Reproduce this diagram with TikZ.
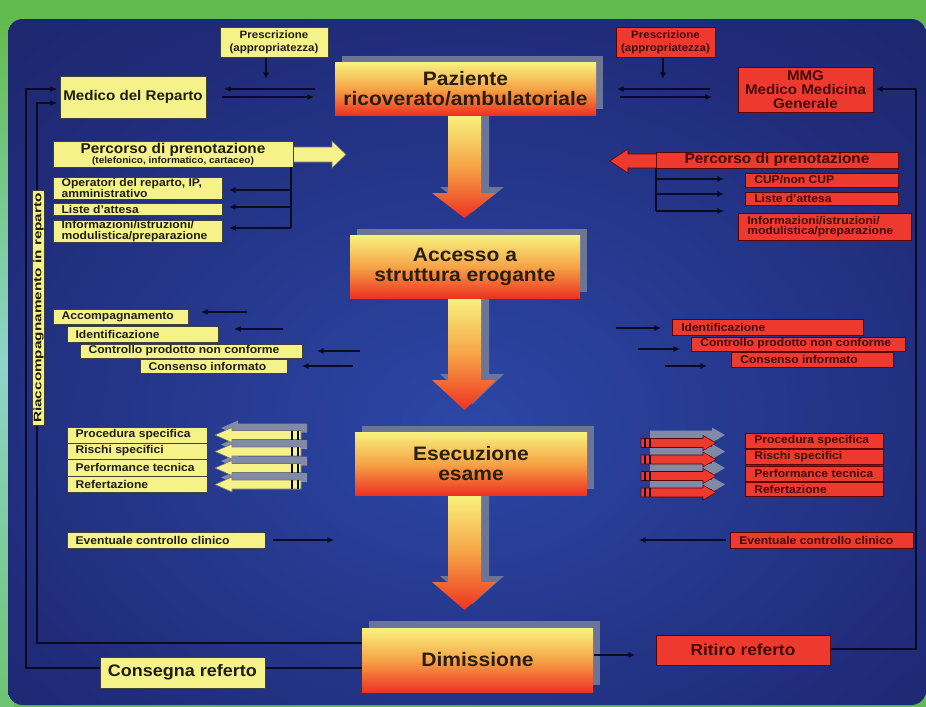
\documentclass[tikz,border=0pt]{standalone}
\usepackage{fontspec}
\setmainfont{Liberation Sans}[FakeStretch=1.08]
\newfontfamily\vfont{Liberation Sans}[FakeStretch=1.4]
\usetikzlibrary{fit,arrows.meta}
\definecolor{bggreen}{HTML}{62BB4E}
\definecolor{bgteal}{HTML}{8ED5C8}
\definecolor{navyd}{HTML}{171B55}
\definecolor{navym}{HTML}{202C7A}
\definecolor{navyl}{HTML}{2C47A6}
\definecolor{ylw}{HTML}{F6F28A}
\definecolor{rdd}{HTML}{EE3A2E}
\definecolor{cy}{HTML}{F8F27E}
\definecolor{co}{HTML}{F6A446}
\definecolor{cr}{HTML}{EE3222}
\definecolor{shd}{HTML}{6B7597}
\definecolor{ln}{HTML}{0A0A22}
\definecolor{txy}{HTML}{1E1E0E}
\definecolor{txr}{HTML}{420806}
\definecolor{ctext}{HTML}{2A1E0E}
\pgfdeclareradialshading{panelshade}{\pgfpoint{0bp}{-5bp}}{color(0bp)=(navyl); color(28bp)=(navym); color(60bp)=(navyd); color(80bp)=(navyd)}
\newcommand\boxL[7]{\node[#1box, fit={(#3,#4) (#5,#6)}] (#2) {};
  \node[#1txl] (#2-t) at (#2.west) {#7};}
\newcommand\boxC[8]{\node[#1box, fit={(#3,#4) (#5,#6)}] (#2) {};
  \node[#1tx, align=center, font={\bfseries#7}] (#2-t) at (#2) {#8};}
\newcommand\yrowS[1]{\fill[garrow] (221,#1-7) -- (238,#1-14.5) -- (238,#1-11.5) -- (307,#1-11.5) -- (307,#1-2.5) -- (238,#1-2.5) -- (238,#1+0.5) -- cycle;}
\newcommand\yrow[1]{\filldraw[yarrow] (215,#1) -- (232,#1-7.5) -- (232,#1-4.5) -- (301,#1-4.5) -- (301,#1+4.5) -- (232,#1+4.5) -- (232,#1+7.5) -- cycle;
  \draw[tick] (292,#1-4.5) -- (292,#1+4.5); \draw[tick] (298,#1-4.5) -- (298,#1+4.5);}
\newcommand\rrowS[1]{\fill[garrow] (725,#1-8) -- (712,#1-15.5) -- (712,#1-12.5) -- (650,#1-12.5) -- (650,#1-3.5) -- (712,#1-3.5) -- (712,#1-0.5) -- cycle;}
\newcommand\rrow[1]{\filldraw[rarrow] (716,#1) -- (703,#1-7.5) -- (703,#1-4.5) -- (641,#1-4.5) -- (641,#1+4.5) -- (703,#1+4.5) -- (703,#1+7.5) -- cycle;
  \draw[tick] (645,#1-4.5) -- (645,#1+4.5); \draw[tick] (650,#1-4.5) -- (650,#1+4.5);}
\newcommand\carrow[3]{%
  \fill[shd] (456,#1-6) -- (489,#1-6) -- (489,#2-6) -- (504,#2-6) -- (472.5,#3-6) -- (440,#2-6) -- (456,#2-6) -- cycle;
  \shade[top color=cy, bottom color=cr, middle color=co] (448,#1) -- (481,#1) -- (481,#2) -- (496,#2) -- (464.5,#3) -- (432,#2) -- (448,#2) -- cycle;}
\begin{document}
\begin{tikzpicture}[x=0.75pt,y=-0.75pt,
  conn/.style={draw=ln, line width=0.9pt},
  arr/.style={conn, -{Latex[length=5pt,width=4.6pt]}},
  ybox/.style={inner sep=0pt, fill=ylw, draw=black!75, line width=0.5pt},
  rbox/.style={inner sep=0pt, fill=rdd, draw=red!35!black, line width=0.5pt},
  cbox/.style={inner sep=0pt, draw=none, top color=cy, bottom color=cr, middle color=co},
  ytx/.style={inner sep=0pt, text=txy, align=left, font=\bfseries\fontsize{8.4}{7.8}\selectfont},
  rtx/.style={ytx, text=txr},
  ytxl/.style={ytx, anchor=west, xshift=6.5pt},
  rtxl/.style={rtx, anchor=west, xshift=7pt},
  ctx/.style={inner sep=0pt, text=ctext, align=center, font=\bfseries\fontsize{14.6}{15}\selectfont},
  yarrow/.style={fill=ylw, draw=black!55, line width=0.4pt},
  rarrow/.style={fill=rdd, draw=red!35!black, line width=0.4pt},
  garrow/.style={fill=shd!85!white},
  tick/.style={draw=ln, line width=1.3pt}
]
\useasboundingbox (0,0) rectangle (926,707);
% background
\fill[bggreen] (0,0) rectangle (926,707);
\shade[top color=bggreen, bottom color=bggreen!70!bgteal, middle color=bgteal] (0,18) rectangle (14,707);
\shade[shading=panelshade, rounded corners=11] (8,19) rectangle (926,705);

% ---------- loops (behind boxes) ----------
\coordinate (lo1) at (362,668); \coordinate (lo2) at (26,668); \coordinate (lo3) at (26,89); \coordinate (lo4) at (57,89);
\draw[arr] (lo1) -- (lo2) -- (lo3) -- (lo4);
\coordinate (li1) at (362,643); \coordinate (li2) at (37,643); \coordinate (li3) at (37,103); \coordinate (li4) at (57,103);
\draw[arr] (li1) -- (li2) -- (li3) -- (li4);
\coordinate (ro1) at (830,649); \coordinate (ro2) at (916,649); \coordinate (ro3) at (916,89); \coordinate (ro4) at (876,89);
\draw[arr] (ro1) -- (ro2) -- (ro3) -- (ro4);

% ---------- central column ----------
\carrow{115}{193}{218}
\carrow{298}{380}{410}
\carrow{495}{582}{610}
\fill[shd] (342,56) rectangle (603,109);
\node[cbox, fit={(335,62) (596,115)}] (paz) {};
\node[ctx] (paz-t) at (paz) {Paziente\\ricoverato/ambulatoriale};
\fill[shd] (357,229) rectangle (587,292);
\node[cbox, fit={(350,235) (580,298)}] (acc) {};
\node[ctx] (acc-t) at (acc) {Accesso a\\struttura erogante};
\fill[shd] (362,426) rectangle (594,489);
\node[cbox, fit={(355,432) (587,495)}] (ese) {};
\node[ctx] (ese-t) at (ese) {Esecuzione\\esame};
\fill[shd] (369,621) rectangle (600,685);
\node[cbox, fit={(362,628) (593,692)}] (dim) {};
\node[ctx] (dim-t) at (dim) {Dimissione};

% ---------- left column ----------
\boxC{y}{presL}{220}{27}{328}{57}{\fontsize{8}{9.6}\selectfont}{Prescrizione\\(appropriatezza)}
\coordinate (pl1) at (266,58); \coordinate (pl2) at (266,79);
\draw[arr] (pl1) -- (pl2);
\boxC{y}{medico}{60}{76}{206}{118}{\fontsize{10.5}{12}\selectfont}{Medico del Reparto}
\coordinate (ml1) at (315,89); \coordinate (ml2) at (224,89);
\draw[arr] (ml1) -- (ml2);
\coordinate (ml3) at (222,97); \coordinate (ml4) at (314,97);
\draw[arr] (ml3) -- (ml4);

\filldraw[yarrow] (290,147) -- (332,147) -- (332,141) -- (346,154.5) -- (332,168) -- (332,162) -- (290,162) -- cycle;
\boxC{y}{percL}{53}{141}{293}{167}{\fontsize{7}{8}\selectfont}{{\fontsize{10.7}{9}\selectfont Percorso di prenotazione}\\[-0.5pt](telefonico, informatico, cartaceo)}
\boxL{y}{opL}{53}{177}{222}{199}{Operatori del reparto, IP,\\amministrativo}
\boxL{y}{listL}{53}{203}{222}{215}{Liste d'attesa}
\boxL{y}{infoL}{53}{220}{222}{242}{Informazioni/istruzioni/\\modulistica/preparazione}
\coordinate (pv1) at (291,167); \coordinate (pv2) at (291,228);
\draw[conn] (pv1) -- (pv2);
\coordinate (pa1) at (291,190); \coordinate (pa2) at (229,190);
\coordinate (pb1) at (291,207); \coordinate (pb2) at (229,207);
\coordinate (pc1) at (291,228); \coordinate (pc2) at (229,228);
\draw[arr] (pa1) -- (pa2); \draw[arr] (pb1) -- (pb2); \draw[arr] (pc1) -- (pc2);

\boxL{y}{accL}{53}{309}{188}{324}{Accompagnamento}
\boxL{y}{idL}{67}{326}{218}{342}{Identificazione}
\boxL{y}{ctlL}{80}{344}{302}{358}{Controllo prodotto non conforme}
\boxL{y}{consL}{140}{359}{287}{373}{Consenso informato}
\coordinate (q1) at (247,312); \coordinate (q2) at (201,312); \draw[arr] (q1) -- (q2);
\coordinate (q3) at (283,329); \coordinate (q4) at (234,329); \draw[arr] (q3) -- (q4);
\coordinate (q5) at (360,351); \coordinate (q6) at (317,351); \draw[arr] (q5) -- (q6);
\coordinate (q7) at (353,366); \coordinate (q8) at (302,366); \draw[arr] (q7) -- (q8);

\yrowS{435}\yrowS{451.5}\yrowS{468}\yrowS{484.5}
\yrow{435}\yrow{451.5}\yrow{468}\yrow{484.5}
\boxL{y}{procL}{67}{427}{207}{443}{Procedura specifica}
\boxL{y}{risL}{67}{443}{207}{459}{Rischi specifici}
\boxL{y}{perfL}{67}{459}{207}{476}{Performance tecnica}
\boxL{y}{refL}{67}{476}{207}{492}{Refertazione}

\boxL{y}{evL}{67}{532}{265}{548}{Eventuale controllo clinico}
\coordinate (e1) at (273,540); \coordinate (e2) at (334,540); \draw[arr] (e1) -- (e2);

\boxC{y}{consegna}{100}{657}{265}{688}{\fontsize{12.5}{14}\selectfont}{Consegna referto}
\node[ybox, rotate=90, inner xsep=2pt, inner ysep=0.6pt, text=txy, font=\vfont\bfseries\fontsize{8.2}{9}\selectfont] (riacc) at (38.5,308) {Riaccompagnamento in reparto};

% ---------- right column ----------
\boxC{r}{presR}{616}{27}{715}{57}{\fontsize{8}{9.6}\selectfont}{Prescrizione\\(appropriatezza)}
\coordinate (pr1) at (663,58); \coordinate (pr2) at (663,79);
\draw[arr] (pr1) -- (pr2);
\coordinate (mr1) at (710,89); \coordinate (mr2) at (617,89);
\draw[arr] (mr1) -- (mr2);
\coordinate (mr3) at (620,97); \coordinate (mr4) at (712,97);
\draw[arr] (mr3) -- (mr4);
\boxC{r}{mmg}{738}{67}{873}{112}{\fontsize{10.5}{10.6}\selectfont}{MMG\\Medico Medicina\\Generale}

\filldraw[rarrow] (660,154) -- (628,154) -- (628,149) -- (610,161) -- (628,173) -- (628,168) -- (660,168) -- cycle;
\boxC{r}{percR}{656}{152}{898}{168}{\fontsize{10.7}{12}\selectfont}{Percorso di prenotazione}
\boxL{r}{cupR}{745}{173}{898}{187}{CUP/non CUP}
\boxL{r}{listR}{745}{192}{898}{205}{Liste d'attesa}
\boxL{r}{infoR}{738}{213}{911}{240}{Informazioni/istruzioni/\\modulistica/preparazione}
\coordinate (rv1) at (656,168); \coordinate (rv2) at (656,211);
\draw[conn] (rv1) -- (rv2);
\coordinate (ra1) at (656,179); \coordinate (ra2) at (724,179);
\coordinate (rb1) at (656,194); \coordinate (rb2) at (724,194);
\coordinate (rc1) at (656,211); \coordinate (rc2) at (724,211);
\draw[arr] (ra1) -- (ra2); \draw[arr] (rb1) -- (rb2); \draw[arr] (rc1) -- (rc2);

\boxL{r}{idR}{672}{319}{863}{335}{Identificazione}
\boxL{r}{ctlR}{691}{337}{905}{351}{Controllo prodotto non conforme}
\boxL{r}{consR}{731}{352}{893}{367}{Consenso informato}
\coordinate (s1) at (616,328); \coordinate (s2) at (661,328); \draw[arr] (s1) -- (s2);
\coordinate (s3) at (638,349); \coordinate (s4) at (680,349); \draw[arr] (s3) -- (s4);
\coordinate (s5) at (665,366); \coordinate (s6) at (707,366); \draw[arr] (s5) -- (s6);

\rrowS{443}\rrowS{459.5}\rrowS{476}\rrowS{492.5}
\rrow{443}\rrow{459.5}\rrow{476}\rrow{492.5}
\boxL{r}{procR}{745}{433}{883}{448}{Procedura specifica}
\boxL{r}{risR}{745}{449}{883}{464}{Rischi specifici}
\boxL{r}{perfR}{745}{466}{883}{481}{Performance tecnica}
\boxL{r}{refR}{745}{482}{883}{496}{Refertazione}

\boxL{r}{evR}{730}{532}{913}{548}{Eventuale controllo clinico}
\coordinate (f1) at (726,540); \coordinate (f2) at (639,540); \draw[arr] (f1) -- (f2);

\boxC{r}{ritiro}{656}{635}{830}{665}{\fontsize{12}{14}\selectfont}{Ritiro referto}
\coordinate (dr1) at (594,655); \coordinate (dr2) at (635,655);
\draw[arr] (dr1) -- (dr2);
\end{tikzpicture}
\end{document}
